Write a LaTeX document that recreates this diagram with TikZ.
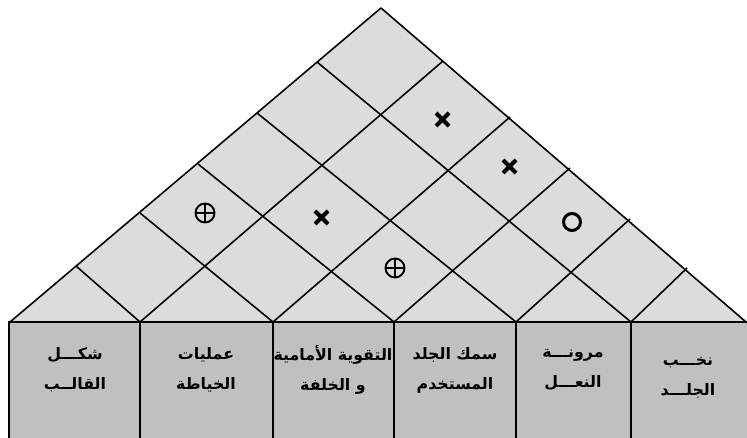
\documentclass[tikz,border=0pt]{standalone}
\usepackage{fontspec}
\usepackage{xcolor}
\newfontfamily\arabicfont[Script=Arabic]{DejaVu Sans}
\TeXXeTstate=1
\definecolor{roofgray}{HTML}{DCDCDC}
\definecolor{boxgray}{HTML}{C0C0C0}
\tikzset{
  roof/.style={line width=0.9pt, join=round},
  boxline/.style={line width=1.5pt},
  lbl/.style={font=\arabicfont\bfseries\fontsize{9}{17}\selectfont, align=center},
  crossmark/.style={line width=2.3pt},
  ringmark/.style={line width=1.7pt},
  plusmark/.style={line width=1.1pt}
}

\begin{document}
\begin{tikzpicture}[x=0.02cm,y=-0.02cm]
\useasboundingbox (0,0) rectangle (747,438);
% roof
\fill [roofgray] (10,322) -- (381,8) -- (746,322) -- cycle;
\draw [roof] (10,322) -- (381,8) -- (746,322);
\draw [roof] (76,266) -- (140,322);
\draw [roof] (140,213) -- (273,322);
\draw [roof] (198,164) -- (394,322);
\draw [roof] (257,113) -- (516,322);
\draw [roof] (317,62) -- (631,322);
\draw [roof] (443,61) -- (140,322);
\draw [roof] (510,117) -- (273,322);
\draw [roof] (570,168) -- (394,322);
\draw [roof] (630,219) -- (516,322);
\draw [roof] (687,268) -- (631,322);
% correlation marks
\draw [plusmark] (205,213) circle [radius=0.19cm];
\draw [plusmark] (195.5,213) -- (214.5,213) (205,203.5) -- (205,222.5);
\draw [plusmark] (395,268) circle [radius=0.19cm];
\draw [plusmark] (385.5,268) -- (404.5,268) (395,258.5) -- (395,277.5);
\draw [crossmark] (315,211) -- (328,224) (315,224) -- (328,211);
\draw [crossmark] (436,113) -- (449,126) (436,126) -- (449,113);
\draw [crossmark] (503,160) -- (516,173) (503,173) -- (516,160);
\draw [ringmark] (572,222) circle [radius=0.17cm];
% boxes
\fill [boxgray] (9,322) rectangle (750,440);
\draw [boxline] (9,440) -- (9,322) -- (750,322);
\foreach \x in {140,273,394,516,631}
  \draw [boxline] (\x,322) -- (\x,440);
\node [lbl] (shakl)   at (75,370)  {\beginR شكـــل\endR\\\beginR القالــب\endR};
\node [lbl] (khiyata) at (206,370) {\beginR عمليات\endR\\\beginR الخياطة\endR};
\node [lbl] (taqwiya) at (333,370) {\beginR التقوية الأمامية\endR\\\beginR و الخلفة\endR};
\node [lbl] (sumk)    at (455,370) {\beginR سمك الجلد\endR\\\beginR المستخدم\endR};
\node [lbl] (muruna)  at (573,370) {\beginR مرونـــة\endR\\\beginR النعـــل\endR};
\node [lbl] (nukhab)  at (688,378) {\beginR نخـــب\endR\\\beginR الجلـــد\endR};
\end{tikzpicture}
\end{document}
